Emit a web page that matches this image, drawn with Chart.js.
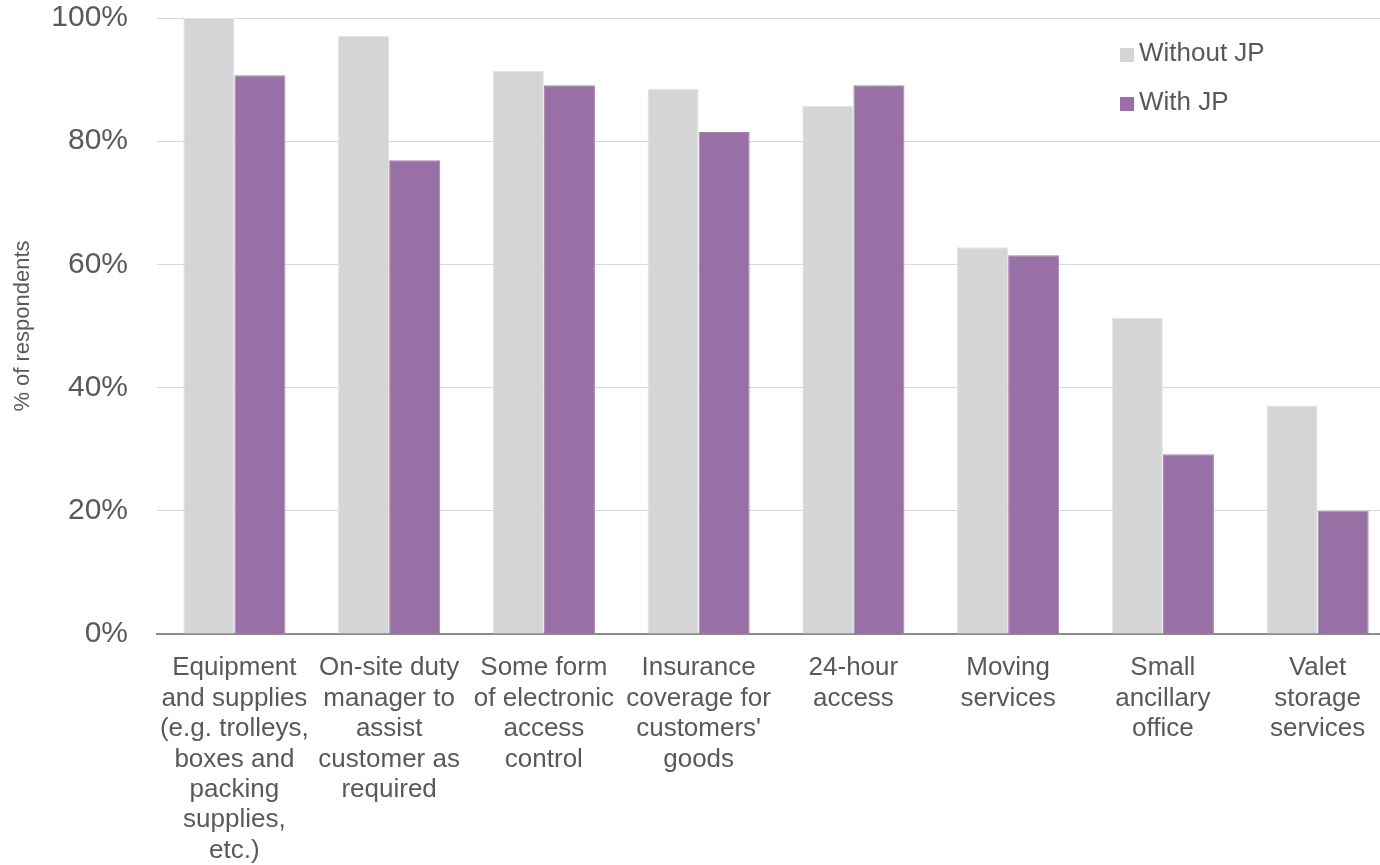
<!DOCTYPE html>
<html>
<head>
<meta charset="utf-8">
<script src="https://cdn.jsdelivr.net/npm/chart.js@4.4.1/dist/chart.umd.min.js"></script>
<style>
  html, body { margin: 0; padding: 0; background: #ffffff; }
  #wrap { position: relative; width: 1380px; height: 865px; }
</style>
</head>
<body>
<div id="wrap"><canvas id="chart"></canvas></div>
<script>
// Categories and series
const categories = [
  ['Equipment', 'and supplies', '(e.g. trolleys,', 'boxes and', 'packing', 'supplies,', 'etc.)'],
  ['On-site duty', 'manager to', 'assist', 'customer as', 'required'],
  ['Some form', 'of electronic', 'access', 'control'],
  ['Insurance', 'coverage for', "customers'", 'goods'],
  ['24-hour', 'access'],
  ['Moving', 'services'],
  ['Small', 'ancillary', 'office'],
  ['Valet', 'storage', 'services'],
];
const withoutJP = [100, 97.1, 91.4, 88.5, 85.7, 62.8, 51.3, 37.1];
const withJP = [90.7, 76.9, 89.1, 81.5, 89.1, 61.5, 29.2, 20.0];
const yTicks = [0, 20, 40, 60, 80, 100];

const TEXT_COLOR = '#595959';
const FONT = "'Liberation Sans', Arial, sans-serif";

// Legend drawn inside the plot, top right
const insideLegend = {
  id: 'insideLegend',
  afterDraw(chart) {
    const { ctx } = chart;
    ctx.save();
    ctx.font = `26px ${FONT}`;
    ctx.textBaseline = 'middle';
    chart.data.datasets.forEach((ds, i) => {
      const y = 54 + i * 49;
      ctx.fillStyle = ds.backgroundColor;
      ctx.fillRect(1120, y - 6, 14, 14);
      ctx.fillStyle = TEXT_COLOR;
      ctx.fillText(ds.label, 1139, y);
    });
    ctx.restore();
  },
};

// The original plot runs a little past the right edge of the picture
const widenPlot = {
  id: 'widenPlot',
  afterLayout(chart) {
    const x = chart.scales.x;
    x.right += 15;
    x.width = x.right - x.left;
    x.configure();
    chart.chartArea.right += 15;
    chart.chartArea.width += 15;
  },
};

const ctx = document.getElementById('chart').getContext('2d');
// eslint-disable-next-line no-undef
new Chart(ctx, {
  type: 'bar',
  data: {
    labels: categories,
    datasets: [
      {
        label: 'Without JP',
        data: withoutJP,
        backgroundColor: '#d4d5d7',
        borderColor: '#e4e4e6',
        borderWidth: 1,
        categoryPercentage: 0.66,
        barPercentage: 1.0,
      },
      {
        label: 'With JP',
        data: withJP,
        backgroundColor: '#9970a5',
        borderColor: '#a884b3',
        borderWidth: 1,
        categoryPercentage: 0.66,
        barPercentage: 1.0,
      },
    ],
  },
  plugins: [insideLegend, widenPlot],
  options: {
    responsive: true,
    maintainAspectRatio: false,
    animation: false,
    layout: {
      padding: 0,
    },
    plugins: {
      legend: { display: false },
      tooltip: { enabled: false },
    },
    scales: {
      x: {
        grid: { display: false, drawTicks: false },
        border: { display: true, color: '#8c8c8c', width: 2 },
        ticks: {
          color: TEXT_COLOR,
          font: { family: FONT, size: 26, lineHeight: 1.17 },
          padding: 19,
          maxRotation: 0,
          autoSkip: false,
        },
        afterFit: (scale) => {
          scale.height = 231;
          scale.paddingLeft = 0;
          scale.paddingRight = 0;
        },
      },
      y: {
        min: 0,
        max: 100,
        afterBuildTicks: (scale) => { scale.ticks = yTicks.map((v) => ({ value: v })); },
        grid: { color: '#d9d9d9', lineWidth: 1, drawTicks: false },
        border: { display: false },
        ticks: {
          color: TEXT_COLOR,
          font: { family: FONT, size: 30 },
          padding: 29,
          callback: (v) => `${v}%`,
        },
        title: {
          display: true,
          text: '% of respondents',
          color: TEXT_COLOR,
          font: { family: FONT, size: 22 },
          padding: { top: 10, bottom: 0 },
        },
        afterFit: (scale) => {
          scale.width = 157;
          scale.paddingTop = 18;
          scale.paddingBottom = 0;
        },
      },
    },
  },
});
</script>
</body>
</html>
